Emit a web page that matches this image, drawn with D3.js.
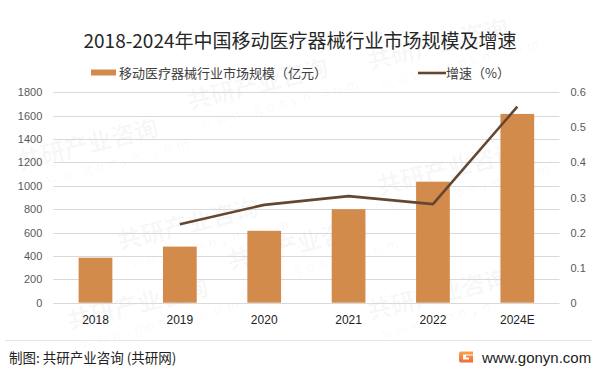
<!DOCTYPE html>
<html>
<head>
<meta charset="utf-8">
<script src="https://cdn.jsdelivr.net/npm/d3@7"></script>
<style>
  body { margin: 0; background: #fff; }
  text { font-family: "Noto Sans CJK SC", "Noto Sans", sans-serif; }
</style>
</head>
<body>
<div id="viz"></div>
<script>
// data
var years = ["2018", "2019", "2020", "2021", "2022", "2024E"];
var marketSize = [385, 480, 615, 800, 1035, 1615];
var growthYears = ["2019", "2020", "2021", "2022", "2024E"];
var growthRate = [0.224, 0.279, 0.304, 0.281, 0.559];
var leftTicks = [0, 200, 400, 600, 800, 1000, 1200, 1400, 1600, 1800];
var rightTicks = [0, 0.1, 0.2, 0.3, 0.4, 0.5, 0.6];

var width = 600, height = 373;
var plot = {left: 53.3, right: 559.5, top: 92.3, bottom: 302.7};

var barColor = "#d38b4c", lineColor = "#654630";

var svg = d3.select("#viz")
    .append("svg")
    .attr("width", width)
    .attr("height", height);

// faint watermarks, kept inside the picture
var wm = svg.append("g").attr("class", "watermark");
var wmPos = [[20, 170], [190, 110], [370, 70], [70, 330], [230, 270], [380, 195], [120, 250], [370, 320]];
wmPos.forEach(function(p) {
  var g = wm.append("g").attr("transform", "translate(" + p[0] + "," + p[1] + ") rotate(-14)");
  g.append("text").attr("x", 0).attr("y", 0)
    .style("font-size", "24px").style("font-weight", "bold")
    .style("fill", "#000").style("fill-opacity", 0.04)
    .text("共研产业咨询");
  g.append("text").attr("x", 8).attr("y", 20)
    .style("font-size", "13px").style("letter-spacing", "5px")
    .style("fill", "#000").style("fill-opacity", 0.04)
    .text("www.gonyn.com");
});

var x = d3.scaleBand()
    .domain(years)
    .range([plot.left, plot.right])
    .paddingInner(0.6)
    .paddingOuter(0.3);

var yL = d3.scaleLinear().domain([0, 1800]).range([plot.bottom, plot.top]);
var yR = d3.scaleLinear().domain([0, 0.6]).range([plot.bottom, plot.top]);

// gridlines
svg.append("g")
    .selectAll("line")
    .data(leftTicks)
  .enter().append("line")
    .attr("x1", plot.left)
    .attr("x2", plot.right)
    .attr("y1", function(d) { return Math.round(yL(d)) + 0.5; })
    .attr("y2", function(d) { return Math.round(yL(d)) + 0.5; })
    .style("stroke", "#d9d9d9")
    .style("stroke-width", 1);

// left axis
var leftAxis = svg.append("g")
    .attr("transform", "translate(" + (plot.left - 11) + ",0)")
    .call(d3.axisLeft(yL).tickValues(leftTicks).tickSize(0).tickPadding(0)
      .tickFormat(d3.format("d")));
leftAxis.select(".domain").remove();
leftAxis.selectAll("text")
    .style("font-family", "'Liberation Sans', Arial, sans-serif")
    .style("font-size", "11px")
    .style("fill", "#595959");

// right axis
var rightAxis = svg.append("g")
    .attr("transform", "translate(" + (plot.right + 11) + ",0)")
    .call(d3.axisRight(yR).tickValues(rightTicks).tickSize(0).tickPadding(0)
      .tickFormat(function(d) { return d === 0 ? "0" : d3.format(".1f")(d); }));
rightAxis.select(".domain").remove();
rightAxis.selectAll("text")
    .style("font-family", "'Liberation Sans', Arial, sans-serif")
    .style("font-size", "11px")
    .style("fill", "#595959");

// bars
svg.append("g")
    .selectAll("rect")
    .data(marketSize)
  .enter().append("rect")
    .attr("x", function(d, i) { return x(years[i]); })
    .attr("y", function(d) { return yL(d); })
    .attr("width", x.bandwidth())
    .attr("height", function(d) { return yL(0) - yL(d); })
    .style("fill", barColor);

// x axis
var bottomAxis = svg.append("g")
    .attr("transform", "translate(0," + plot.bottom + ")")
    .call(d3.axisBottom(x).tickSize(0).tickPadding(13));
bottomAxis.select(".domain").remove();
bottomAxis.selectAll("text")
    .style("font-family", "'Liberation Sans', Arial, sans-serif")
    .style("font-size", "12px")
    .style("fill", "#222");

// growth line
var line = d3.line()
    .x(function(d, i) { return x(growthYears[i]) + x.bandwidth() / 2; })
    .y(function(d) { return yR(d); });

svg.append("path")
    .datum(growthRate)
    .attr("d", line)
    .style("fill", "none")
    .style("stroke", lineColor)
    .style("stroke-width", 2.6)
    .style("stroke-linejoin", "round");

// title
svg.append("text")
    .attr("x", 300)
    .attr("y", 48)
    .attr("text-anchor", "middle")
    .style("font-size", "19px")
    .style("fill", "#262626")
    .text("2018-2024年中国移动医疗器械行业市场规模及增速");

// legend
svg.append("rect")
    .attr("x", 91).attr("y", 69.5)
    .attr("width", 25).attr("height", 6)
    .style("fill", barColor);
svg.append("text")
    .attr("x", 119).attr("y", 77.5)
    .style("font-size", "13px")
    .style("fill", "#404040")
    .text("移动医疗器械行业市场规模（亿元）");

svg.append("line")
    .attr("x1", 418).attr("x2", 446)
    .attr("y1", 73).attr("y2", 73)
    .style("stroke", lineColor)
    .style("stroke-width", 2.6);
svg.append("text")
    .attr("x", 446).attr("y", 77.5)
    .style("font-size", "13px")
    .style("fill", "#404040")
    .text("增速（%）");

// footer
svg.append("line")
    .attr("x1", 5).attr("x2", 592)
    .attr("y1", 340.5).attr("y2", 340.5)
    .style("stroke", "#e6e6e6")
    .style("stroke-width", 1);

svg.append("text")
    .attr("x", 9).attr("y", 363)
    .style("font-size", "13.5px")
    .style("fill", "#222")
    .text("制图: 共研产业咨询 (共研网)");

var grad = svg.append("defs").append("linearGradient")
    .attr("id", "logoGrad").attr("x1", 0).attr("y1", 0).attr("x2", 0).attr("y2", 1);
grad.append("stop").attr("offset", "0%").attr("stop-color", "#f7a24b");
grad.append("stop").attr("offset", "100%").attr("stop-color", "#f06a3c");
svg.append("g").attr("transform", "translate(459,351.5)")
  .append("path")
    .attr("d", "M0,2 Q0,0 2,0 L14,0 L14,3 L4,3 L4,8 L10,8 L10,6 L7,6 L7,4 L14,4 L14,11 L2,11 Q0,11 0,9 Z")
    .style("fill", "url(#logoGrad)");

svg.append("text")
    .attr("x", 482).attr("y", 363)
    .style("font-family", "'Liberation Sans', Arial, sans-serif")
    .style("font-size", "15px")
    .style("fill", "#222")
    .text("www.gonyn.com");
</script>
</body>
</html>
